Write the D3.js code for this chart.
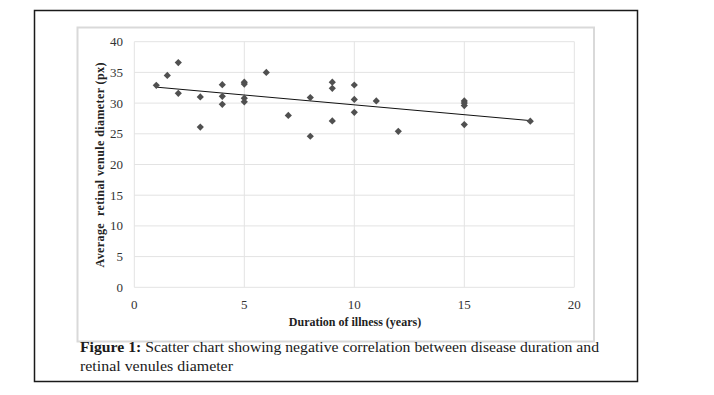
<!DOCTYPE html>
<html>
<head>
<meta charset="utf-8">
<script src="https://cdn.jsdelivr.net/npm/d3@7"></script>
<style>
  body { margin: 0; background: #fff; }
  svg { display: block; }
</style>
</head>
<body>
<div id="chart"></div>
<script>
// Duration of illness (years) vs average retinal venule diameter (px)
const durationYears = [1, 1.5, 2, 2, 3, 3, 4, 4, 4, 5, 5, 5, 5, 6, 7, 8, 8, 9, 9, 9,
                       10, 10, 10, 11, 12, 15, 15, 15, 15, 18];
const venuleDiameter = [32.9, 34.5, 36.6, 31.6, 31.0, 26.1, 33.0, 31.1, 29.8, 33.4, 33.1, 30.8, 30.2, 35.0, 28.0, 30.9, 24.6, 33.4, 32.4, 27.1,
                        32.95, 30.6, 28.5, 30.35, 25.4, 30.35, 30.0, 29.6, 26.5, 27.05];
// linear trendline as drawn in the figure
const trendX = [1, 18];
const trendY = [32.6, 27.15];
const xTicks = [0, 5, 10, 15, 20];
const yTicks = [0, 5, 10, 15, 20, 25, 30, 35, 40];

const points = durationYears.map((d, i) => ({ x: d, y: venuleDiameter[i] }));

const svg = d3.select('#chart')
    .append('svg')
    .attr('width', 714)
    .attr('height', 395);

// outer figure frame
svg.append('rect')
    .attr('x', 34.5).attr('y', 10.5)
    .attr('width', 603).attr('height', 371)
    .attr('fill', 'none')
    .attr('stroke', '#1a1a1a')
    .attr('stroke-width', 1.5);

// chart area border
svg.append('rect')
    .attr('x', 77.5).attr('y', 27.5)
    .attr('width', 516.5).attr('height', 314)
    .attr('fill', 'none')
    .attr('stroke', '#d9d9d9')
    .attr('stroke-width', 2);

const x = d3.scaleLinear().domain([0, 20]).range([134.3, 574.3]);
const y = d3.scaleLinear().domain([0, 40]).range([287.3, 41.7]);

// gridlines
svg.append('g')
    .selectAll('line')
    .data(yTicks)
    .join('line')
    .attr('x1', x(0)).attr('x2', x(20))
    .attr('y1', d => y(d)).attr('y2', d => y(d))
    .attr('stroke', '#e3e3e3')
    .attr('stroke-width', 1);

svg.append('g')
    .selectAll('line')
    .data(xTicks)
    .join('line')
    .attr('x1', d => x(d)).attr('x2', d => x(d))
    .attr('y1', y(0)).attr('y2', y(40))
    .attr('stroke', '#e3e3e3')
    .attr('stroke-width', 1);

// tick labels
svg.append('g')
    .selectAll('text')
    .data(yTicks)
    .join('text')
    .attr('x', 123)
    .attr('y', d => y(d) + 4.5)
    .attr('text-anchor', 'end')
    .attr('font-family', '"Liberation Serif", "Times New Roman", serif')
    .attr('font-size', 13)
    .attr('fill', '#333')
    .text(d => d);

svg.append('g')
    .selectAll('text')
    .data(xTicks)
    .join('text')
    .attr('x', d => x(d))
    .attr('y', 308.5)
    .attr('text-anchor', 'middle')
    .attr('font-family', '"Liberation Serif", "Times New Roman", serif')
    .attr('font-size', 13)
    .attr('fill', '#333')
    .text(d => d);

// axis titles
svg.append('text')
    .attr('x', 355)
    .attr('y', 326)
    .attr('text-anchor', 'middle')
    .attr('font-family', '"Liberation Serif", serif')
    .attr('font-weight', 'bold')
    .attr('font-size', 12)
    .attr('fill', '#222')
    .text('Duration of illness (years)');

svg.append('text')
    .attr('transform', 'translate(104,165) rotate(-90)')
    .attr('text-anchor', 'middle')
    .attr('font-family', '"Liberation Serif", serif')
    .attr('font-weight', 'bold')
    .attr('font-size', 12)
    .attr('fill', '#222')
    .attr('textLength', 205)
    .attr('xml:space', 'preserve')
    .text('Average  retinal venule diameter (px)');

// trendline
svg.append('line')
    .attr('x1', x(trendX[0])).attr('y1', y(trendY[0]))
    .attr('x2', x(trendX[1])).attr('y2', y(trendY[1]))
    .attr('stroke', '#111')
    .attr('stroke-width', 1);

// diamond markers
const diamond = d3.symbol().type(d3.symbolSquare).size(26);
svg.append('g')
    .selectAll('path')
    .data(points)
    .join('path')
    .attr('d', diamond)
    .attr('transform', d => `translate(${x(d.x)},${y(d.y)}) rotate(45)`)
    .attr('fill', '#505050');

// caption
const caption = svg.append('g')
    .attr('font-family', '"Liberation Serif", serif')
    .attr('font-size', 15)
    .attr('fill', '#1a1a1a');

const line1 = caption.append('text')
    .attr('x', 80).attr('y', 352)
    .attr('textLength', 519)
    .attr('lengthAdjust', 'spacingAndGlyphs');
line1.append('tspan').attr('font-weight', 'bold').text('Figure 1:');
line1.append('tspan').text(' Scatter chart showing negative correlation between disease duration and');

caption.append('text')
    .attr('x', 80).attr('y', 371)
    .attr('textLength', 153)
    .attr('lengthAdjust', 'spacingAndGlyphs')
    .text('retinal venules diameter');
</script>
</body>
</html>
